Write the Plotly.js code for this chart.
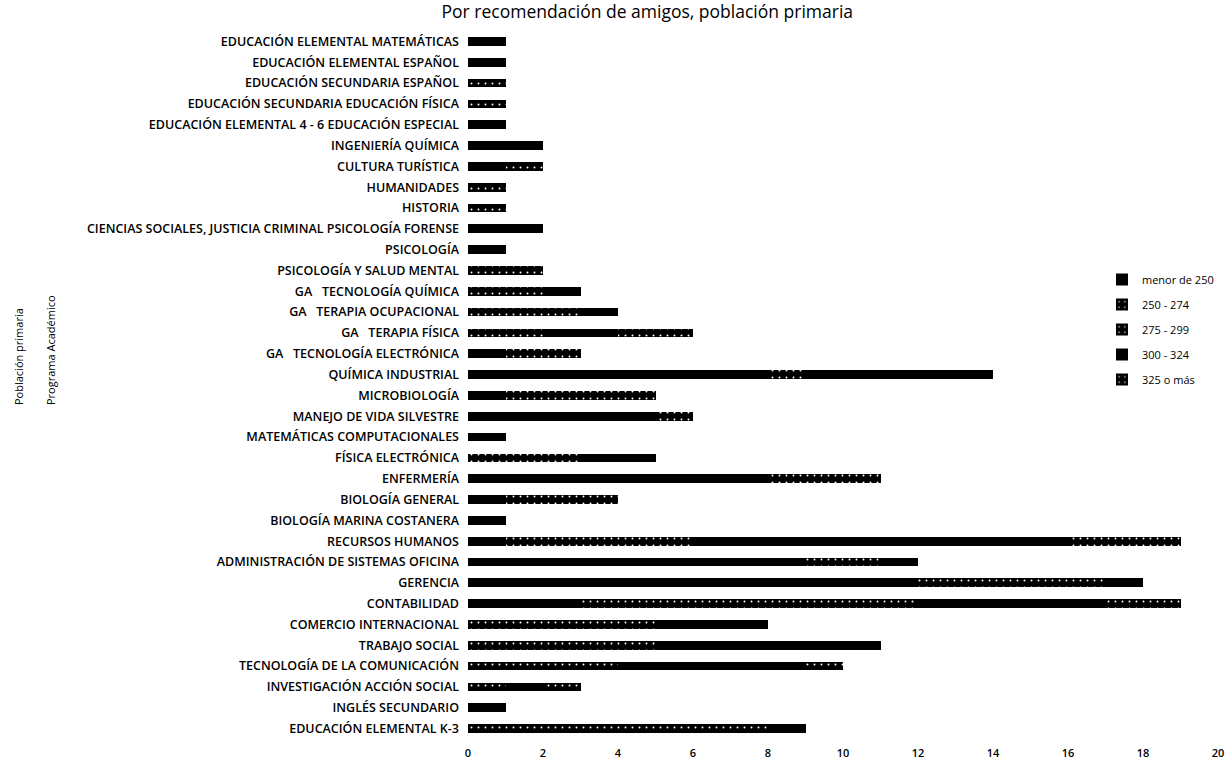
<!DOCTYPE html>
<html>
<head>
<meta charset="utf-8">
<script src="https://cdn.plot.ly/plotly-3.0.1.min.js"></script>
<style>html,body{margin:0;padding:0;background:#fff;overflow:hidden;}#chart{width:1226px;height:762px;}</style>
</head>
<body>
<div id="chart"></div>
<script>
// Categories listed top to bottom as in the reference
const categories = [
  "EDUCACIÓN ELEMENTAL MATEMÁTICAS",
  "EDUCACIÓN ELEMENTAL ESPAÑOL",
  "EDUCACIÓN SECUNDARIA ESPAÑOL",
  "EDUCACIÓN SECUNDARIA EDUCACIÓN FÍSICA",
  "EDUCACIÓN ELEMENTAL 4 - 6 EDUCACIÓN ESPECIAL",
  "INGENIERÍA QUÍMICA",
  "CULTURA TURÍSTICA",
  "HUMANIDADES",
  "HISTORIA",
  "CIENCIAS SOCIALES, JUSTICIA CRIMINAL PSICOLOGÍA FORENSE",
  "PSICOLOGÍA",
  "PSICOLOGÍA Y SALUD MENTAL",
  "GA\u00a0\u00a0\u00a0TECNOLOGÍA QUÍMICA",
  "GA\u00a0\u00a0\u00a0TERAPIA OCUPACIONAL",
  "GA\u00a0\u00a0\u00a0TERAPIA FÍSICA",
  "GA\u00a0\u00a0\u00a0TECNOLOGÍA ELECTRÓNICA",
  "QUÍMICA INDUSTRIAL",
  "MICROBIOLOGÍA",
  "MANEJO DE VIDA SILVESTRE",
  "MATEMÁTICAS COMPUTACIONALES",
  "FÍSICA ELECTRÓNICA",
  "ENFERMERÍA",
  "BIOLOGÍA GENERAL",
  "BIOLOGÍA MARINA COSTANERA",
  "RECURSOS HUMANOS",
  "ADMINISTRACIÓN DE SISTEMAS OFICINA",
  "GERENCIA",
  "CONTABILIDAD",
  "COMERCIO INTERNACIONAL",
  "TRABAJO SOCIAL",
  "TECNOLOGÍA DE LA COMUNICACIÓN",
  "INVESTIGACIÓN ACCIÓN SOCIAL",
  "INGLÉS SECUNDARIO",
  "EDUCACIÓN ELEMENTAL K-3"
];

const seriesNames = ["menor de 250", "250 - 274", "275 - 299", "300 - 324", "325 o más"];

const menor250 = [0,1,0,0,1,2,1,0,0,1,1,0,0,0,0,1,8,1,1,1,0,2,1,1,1,9,12,3,0,0,0,0,1,0];
const r250_274 = [0,0,1,0,0,0,1,1,0,0,0,1,2,2,2,2,1,2,0,0,3,0,3,0,0,1,2,4,2,4,2,1,0,4];
const r275_299 = [0,0,0,1,0,0,0,0,1,0,0,1,0,1,0,0,0,2,0,0,0,0,0,0,5,1,3,5,3,1,2,0,0,4];
const r300_324 = [1,0,0,0,0,0,0,0,0,1,0,0,1,1,2,0,5,0,4,0,2,6,0,0,10,1,1,5,3,6,5,1,0,1];
const r325mas  = [0,0,0,0,0,0,0,0,0,0,0,0,0,0,2,0,0,0,1,0,0,3,0,0,3,0,0,2,0,0,1,1,0,0];

const seriesValues = [menor250, r250_274, r275_299, r300_324, r325mas];
const textured = [false, true, true, false, true];

const traces = seriesValues.map((vals, i) => ({
  type: 'bar',
  orientation: 'h',
  name: seriesNames[i],
  legendgroup: 'g' + i,
  y: categories,
  x: vals,
  marker: textured[i]
    ? {color: '#000', pattern: {shape: '.', fgcolor: '#ffffff', bgcolor: '#000000', size: 7, solidity: 0.06}, line: {width: 0}}
    : {color: '#000', line: {width: 0}},
  hoverinfo: 'x+y+name'
}));

const ML = 468, MR = 8, MT = 31, MB = 23;
const plotW = 1226 - ML - MR;
const plotH = 762 - MT - MB;

const layout = {
  width: 1226,
  height: 762,
  paper_bgcolor: '#fff',
  plot_bgcolor: '#fff',
  barmode: 'stack',
  bargap: 0.58,
  margin: {l: ML, r: MR, t: MT, b: MB, pad: 0, autoexpand: false},
  font: {family: 'Open Sans, Noto Sans, sans-serif', color: '#111'},
  title: {
    text: 'Por recomendación de amigos, población primaria',
    font: {size: 17.5, color: '#000', family: 'Open Sans, Noto Sans, sans-serif'},
    xref: 'container', x: 0.528, xanchor: 'center',
    yref: 'container', y: 0.984, yanchor: 'middle'
  },
  xaxis: {
    range: [0, 20],
    dtick: 2,
    tick0: 0,
    showgrid: false,
    zeroline: false,
    showline: false,
    ticks: '',
    ticklabelstandoff: 6,
    automargin: false,
    tickfont: {size: 11, color: '#000', weight: 600}
  },
  yaxis: {
    type: 'category',
    autorange: 'reversed',
    showgrid: false,
    zeroline: false,
    showline: false,
    ticks: '',
    ticklabelstandoff: 8,
    automargin: false,
    tickfont: {size: 12.5, color: '#000', family: 'Open Sans, Noto Sans, sans-serif', weight: 600}
  },
  legend: {
    x: (1102 - ML) / plotW, xanchor: 'left',
    y: 1 - (265 - MT) / plotH, yanchor: 'top',
    bgcolor: 'rgba(0,0,0,0)',
    font: {size: 11, color: '#000'},
    tracegroupgap: 6,
    itemwidth: 30,
    traceorder: 'grouped'
  },
  annotations: [
    {text: 'Población primaria', xref: 'paper', yref: 'paper',
     x: (18 - ML) / plotW, y: 1 - (357 - MT) / plotH, xanchor: 'center', yanchor: 'middle',
     textangle: -90, showarrow: false, font: {size: 11, color: '#000'}},
    {text: 'Programa Académico', xref: 'paper', yref: 'paper',
     x: (50 - ML) / plotW, y: 1 - (350 - MT) / plotH, xanchor: 'center', yanchor: 'middle',
     textangle: -90, showarrow: false, font: {size: 11, color: '#000'}}
  ],
  showlegend: true
};

Plotly.newPlot('chart', traces, layout, {displayModeBar: false, staticPlot: true});
</script>
</body>
</html>
